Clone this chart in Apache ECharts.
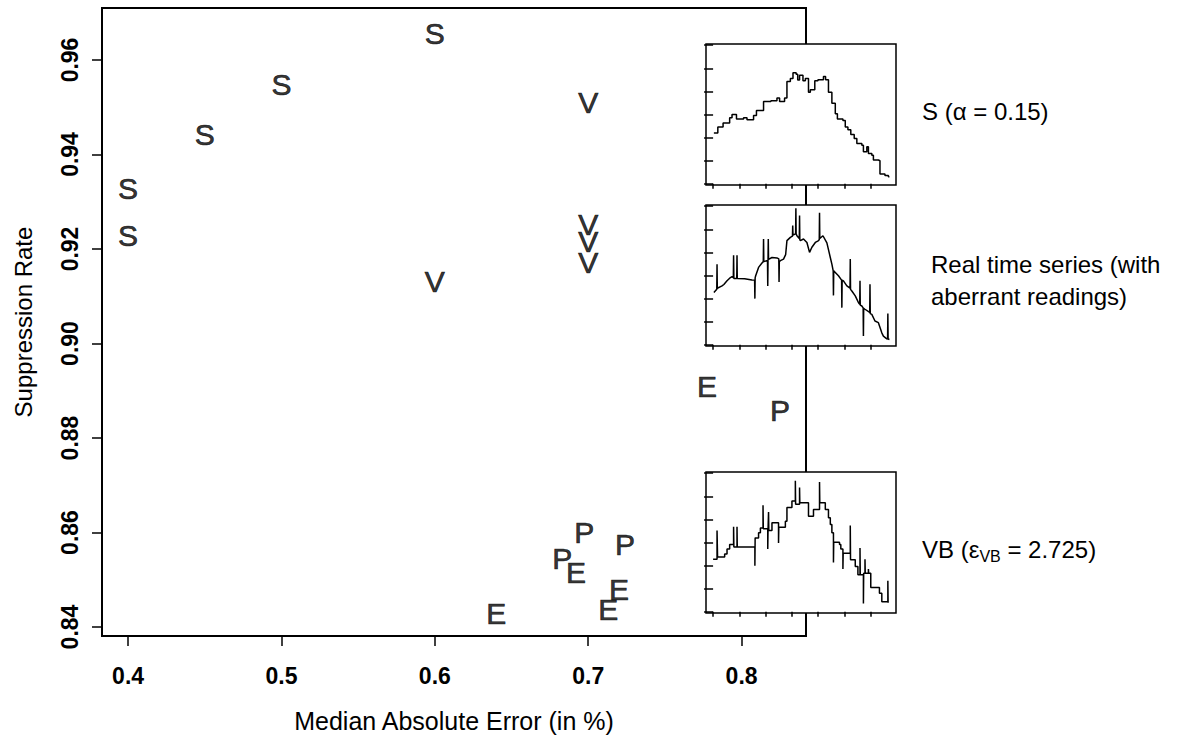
<!DOCTYPE html>
<html><head><meta charset="utf-8">
<script src="https://cdn.jsdelivr.net/npm/echarts@6/dist/echarts.min.js"></script>
<style>html,body{margin:0;padding:0;background:#fff}#c{width:1179px;height:740px}</style>
</head><body><div id="c"></div>
<script>
// ---- main scatter data ----
const xTicks = [0.4, 0.5, 0.6, 0.7, 0.8];
const yTicks = [0.84, 0.86, 0.88, 0.90, 0.92, 0.94, 0.96];
const sX = [0.4, 0.4, 0.45, 0.5, 0.6];
const sY = [0.9329, 0.9228, 0.9443, 0.9549, 0.9657];
const vX = [0.7, 0.7, 0.7, 0.7, 0.6];
const vY = [0.9509, 0.9251, 0.9215, 0.9172, 0.9132];
const eX = [0.7775, 0.692, 0.720, 0.713, 0.640];
const eY = [0.891, 0.8516, 0.8480, 0.8438, 0.8428];
const pX = [0.825, 0.6974, 0.683, 0.724];
const pY = [0.8859, 0.8599, 0.8546, 0.8574];

// ---- inset series ----
const insetTicks = [0, 1, 2, 3, 4, 5, 6];
const tS = [0.03,0.18,0.38,0.63,0.72,0.89,1.16,1.29,1.54,1.65,1.92,2.20,2.43,2.53,2.72,2.81,2.94,3.04,3.16,3.22,3.29,3.42,3.51,3.63,3.70,3.87,3.99,4.20,4.28,4.39,4.52,4.65,4.73,4.94,5.03,5.13,5.24,5.37,5.47,5.66,5.72,5.85,5.91,6.04,6.10,6.29,6.35,6.54,6.67,6.71];
const vS = [2.2,2.46,2.63,2.86,3.0,2.81,2.86,2.77,2.96,3.17,3.56,3.6,3.71,3.56,3.71,4.43,4.56,4.81,4.74,4.49,4.7,4.46,4.56,3.96,4.07,4.46,4.5,4.64,4.5,3.96,3.49,3.03,2.81,2.74,2.46,2.34,2.14,1.96,1.74,1.67,1.39,1.6,1.31,1.24,1.03,1.0,0.43,0.36,0.31,0.31];
const tR = [0.03,0.14,0.15,0.16,0.34,0.41,0.53,0.66,0.72,0.77,0.78,0.79,0.90,0.91,0.92,1.2,1.48,1.58,1.59,1.60,1.62,1.73,1.86,1.91,1.92,1.93,2.07,2.08,2.09,2.10,2.11,2.24,2.43,2.50,2.51,2.52,2.56,2.68,2.76,2.81,2.94,3.02,3.03,3.04,3.14,3.15,3.16,3.19,3.28,3.29,3.30,3.32,3.44,3.57,3.67,3.76,3.89,4.0,4.04,4.05,4.06,4.18,4.33,4.46,4.52,4.57,4.58,4.59,4.65,4.77,4.89,4.90,4.91,4.96,5.09,5.21,5.22,5.23,5.28,5.41,5.53,5.58,5.59,5.60,5.66,5.71,5.72,5.73,5.78,5.96,5.97,5.98,6.04,6.16,6.29,6.42,6.48,6.61,6.64,6.65,6.66,6.71];
const vR = [2.26,2.4,3.49,2.45,2.55,2.61,2.77,2.91,2.95,2.9,3.88,2.87,2.87,3.88,2.87,2.86,2.81,2.8,2.0,2.9,2.99,3.35,3.54,3.6,4.58,3.6,3.65,2.55,3.65,4.58,3.7,3.78,3.76,3.72,2.72,3.6,3.64,3.71,3.9,4.51,4.65,4.7,5.16,4.75,4.8,5.91,4.8,4.72,4.6,5.59,4.55,4.51,4.58,4.43,4.0,4.22,4.43,4.5,4.55,5.71,4.6,4.72,4.41,3.78,3.49,3.2,2.14,3.2,3.13,2.99,2.8,1.61,2.8,2.77,2.55,2.45,3.71,2.4,2.33,2.12,1.83,1.75,2.77,1.72,1.68,1.6,0.38,1.58,1.54,1.4,2.62,1.35,1.32,1.03,0.96,0.52,0.38,0.26,0.25,1.36,0.25,0.23];
const tV = [0.0,0.15,0.17,0.44,0.53,0.63,0.78,0.79,0.91,0.92,1.59,1.60,1.73,1.80,1.90,1.91,2.08,2.09,2.11,2.12,2.24,2.49,2.50,2.75,2.81,3.0,3.13,3.14,3.29,3.30,3.63,3.82,4.05,4.06,4.27,4.39,4.46,4.52,4.58,4.59,4.81,4.86,4.94,4.95,5.22,5.23,5.41,5.51,5.59,5.60,5.72,5.73,5.78,5.79,5.91,5.92,6.0,6.33,6.42,6.65,6.66,6.68];
const vV = [2.28,3.52,2.37,2.5,2.72,2.91,3.68,2.81,3.68,2.81,1.99,3.2,3.42,3.63,4.61,3.59,2.72,3.52,4.32,3.52,3.85,2.98,3.66,3.92,4.51,4.8,5.67,4.65,5.38,4.72,4.14,4.43,5.62,4.72,4.43,4.07,3.78,3.42,2.14,3.01,2.91,2.72,1.85,2.54,3.74,2.25,1.96,1.6,2.76,1.6,0.36,1.67,2.28,1.67,1.85,1.67,1.05,0.8,0.44,1.35,0.39,0.39];

const zip = (a, b) => a.map((x, i) => [x, b[i]]);
const FONT = 'Liberation Sans';

function letterSeries(letter, xs, ys) {
  return {
    type: 'scatter', xAxisIndex: 0, yAxisIndex: 0,
    data: zip(xs, ys), symbolSize: 1, itemStyle: {color: 'rgba(0,0,0,0)'},
    label: {show: true, position: 'inside', formatter: letter, color: '#000',
            fontFamily: FONT, fontSize: 30, textBorderColor: '#000', textBorderWidth: 0.7},
    silent: true, z: 3
  };
}

const insetTops = [44, 205, 472];
const grids = [{left: 102, right: 373, top: 8, bottom: 104, show: true, borderColor: '#000', borderWidth: 2, z: 0}];
const xAxes = [{
  gridIndex: 0, type: 'value', min: 0.383, max: 0.842, z: 0,
  axisLine: {show: true, onZero: false, lineStyle: {color: '#000', width: 2}},
  axisTick: {show: true, customValues: xTicks, length: 10, lineStyle: {color: '#000', width: 1.5}},
  axisLabel: {customValues: xTicks, formatter: v => v.toFixed(1), margin: 28, color: '#000',
              fontFamily: FONT, fontWeight: 'bold', fontSize: 23},
  splitLine: {show: false},
  name: 'Median Absolute Error (in %)', nameLocation: 'middle', nameGap: 72,
  nameTextStyle: {fontFamily: FONT, fontSize: 25, color: '#000'}
}];
const yAxes = [{
  gridIndex: 0, type: 'value', min: 0.8381, max: 0.971, z: 0,
  axisLine: {show: true, onZero: false, lineStyle: {color: '#000', width: 2}},
  axisTick: {show: true, customValues: yTicks, length: 10, lineStyle: {color: '#000', width: 1.5}},
  axisLabel: {customValues: yTicks, formatter: v => v.toFixed(2), rotate: 90, margin: 21, color: '#000',
              fontFamily: FONT, fontWeight: 'bold', fontSize: 23},
  splitLine: {show: false},
  name: 'Suppression Rate', nameLocation: 'middle', nameGap: 67,
  nameTextStyle: {fontFamily: FONT, fontSize: 24, color: '#000'}
}];
insetTops.forEach((top, i) => {
  grids.push({left: 706, width: 190, top: top, height: 141, show: true, backgroundColor: '#fff',
              borderColor: '#000', borderWidth: 1.5, z: 10});
  xAxes.push({gridIndex: i + 1, type: 'value', min: -0.27, max: 6.96, z: 11,
    axisLine: {show: false}, splitLine: {show: false}, axisLabel: {show: false},
    axisTick: {show: true, customValues: insetTicks, length: 5, lineStyle: {color: '#000', width: 1.5}}});
  yAxes.push({gridIndex: i + 1, type: 'value', min: -0.05, max: 6.05, z: 11,
    axisLine: {show: false}, splitLine: {show: false}, axisLabel: {show: false},
    axisTick: {show: true, customValues: insetTicks, length: 9, lineStyle: {color: '#000', width: 1.5}}});
});

function insetLine(idx, ts, vs, step) {
  return {type: 'line', xAxisIndex: idx, yAxisIndex: idx, data: zip(ts, vs), step: step,
          showSymbol: false, symbol: 'none', lineStyle: {color: '#000', width: 1.5}, z: 12, silent: true};
}

const option = {
  animation: false,
  backgroundColor: '#fff',
  grid: grids, xAxis: xAxes, yAxis: yAxes,
  series: [
    letterSeries('S', sX, sY), letterSeries('V', vX, vY),
    letterSeries('E', eX, eY), letterSeries('P', pX, pY),
    insetLine(1, tS, vS, 'end'),
    insetLine(2, tR, vR, false),
    insetLine(3, tV, vV, 'end')
  ],
  graphic: [
    {type: 'text', x: 922, y: 111, z: 20, style: {text: 'S (α = 0.15)', fontFamily: FONT, fontSize: 24, fill: '#000', verticalAlign: 'middle'}},
    {type: 'text', x: 931, y: 264, z: 20, style: {text: 'Real time series (with', fontFamily: FONT, fontSize: 24, fill: '#000', verticalAlign: 'middle'}},
    {type: 'text', x: 931, y: 296, z: 20, style: {text: 'aberrant readings)', fontFamily: FONT, fontSize: 24, fill: '#000', verticalAlign: 'middle'}},
    {type: 'text', x: 922, y: 549, z: 20, style: {text: '{a|VB (ε}{s|VB}{a| = 2.725)}', verticalAlign: 'middle', fill: '#000',
      rich: {a: {fontFamily: FONT, fontSize: 24, lineHeight: 30, verticalAlign: 'middle'},
             s: {fontFamily: FONT, fontSize: 16, lineHeight: 30, verticalAlign: 'bottom'}}}}
  ]
};
const chart = echarts.init(document.getElementById('c'), null, {renderer: 'svg'});
chart.setOption(option);
</script>
</body></html>
